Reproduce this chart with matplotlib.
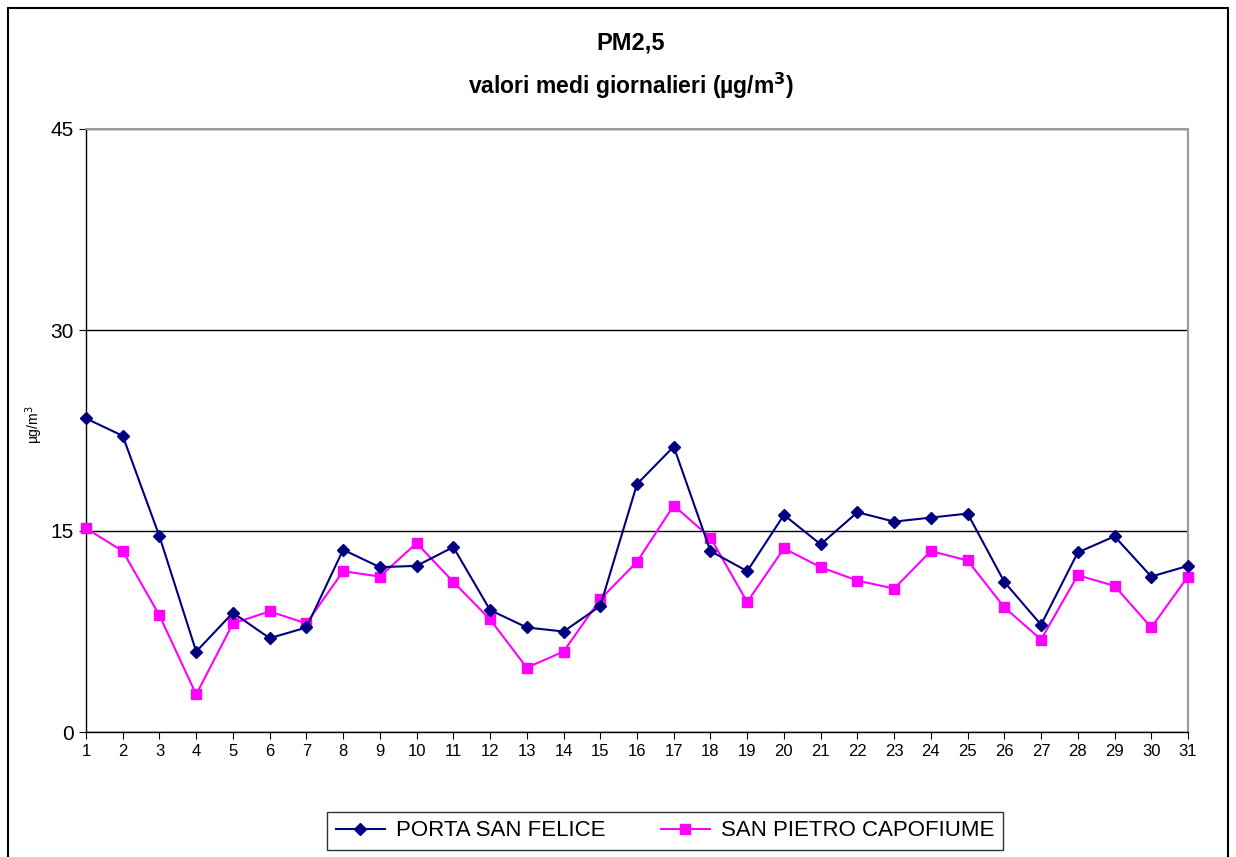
import matplotlib
matplotlib.use("Agg")
import matplotlib.pyplot as plt
from matplotlib.patches import Rectangle

plt.rcParams["font.family"] = ["Liberation Sans", "DejaVu Sans"]

days = list(range(1, 32))
porta_san_felice = [23.4, 22.1, 14.6, 6.0, 8.9, 7.0, 7.8, 13.6, 12.3, 12.4,
                    13.8, 9.1, 7.8, 7.5, 9.4, 18.5, 21.3, 13.5, 12.0, 16.2,
                    14.0, 16.4, 15.7, 16.0, 16.3, 11.2, 8.0, 13.4, 14.6, 11.6,
                    12.4]
san_pietro_capofiume = [15.2, 13.5, 8.7, 2.8, 8.1, 9.0, 8.1, 12.0, 11.6, 14.1,
                        11.2, 8.4, 4.8, 6.0, 9.9, 12.7, 16.9, 14.5, 9.7, 13.7,
                        12.3, 11.3, 10.7, 13.5, 12.8, 9.3, 6.9, 11.7, 10.9, 7.8,
                        11.6]
y_ticks = [0, 15, 30, 45]

W, H = 1236, 857
fig = plt.figure(figsize=(W / 100, H / 100), dpi=100)
ax = fig.add_axes([86 / W, (H - 732) / H, (1188 - 86) / W, (732 - 129) / H])

# outer chart frame
fig.patches.append(Rectangle((8 / W, -0.01), (1228 - 8) / W, (849 / H) + 0.01,
                             transform=fig.transFigure, fill=False,
                             edgecolor="black", linewidth=1.5))

ax.plot(days, porta_san_felice, color="#000080", marker="D", markersize=6,
        linewidth=1.5, label="PORTA SAN FELICE", clip_on=False, zorder=4)
ax.plot(days, san_pietro_capofiume, color="#FF00FF", marker="s", markersize=7,
        linewidth=1.5, label="SAN PIETRO CAPOFIUME", clip_on=False, zorder=3)

ax.set_xlim(1, 31)
ax.set_ylim(0, 45)
ax.set_xticks(days)
ax.set_yticks(y_ticks)
ax.tick_params(axis="x", labelsize=12, length=5, direction="out", pad=4)
ax.tick_params(axis="y", labelsize=15, length=5, direction="out", pad=4)
ax.yaxis.grid(True, color="black", linewidth=1)
ax.set_axisbelow(True)

for side in ("top", "right"):
    ax.spines[side].set_color("#999999")
    ax.spines[side].set_linewidth(1.5)
for side in ("left", "bottom"):
    ax.spines[side].set_color("black")
    ax.spines[side].set_linewidth(1)

ax.set_ylabel("µg/m$^3$", fontsize=10)
ax.yaxis.set_label_coords(-0.037, 0.51)

fig.text(631 / W, 1 - 43 / H, "PM2,5", ha="center", va="center",
         fontsize=17, fontweight="bold")
fig.text(631 / W, 1 - 86 / H, "valori medi giornalieri (µg/m$^\\mathbf{3}$)",
         ha="center", va="center", fontsize=16.5, fontweight="bold")

leg = fig.legend(loc="center", bbox_to_anchor=(665 / W, 1 - 831 / H), ncol=2,
                 fontsize=16, frameon=True, fancybox=False, edgecolor="black",
                 handlelength=2.2, columnspacing=2.5, borderpad=0.4,
                 handletextpad=0.5)
leg.get_frame().set_linewidth(1)

fig.savefig("out.png", dpi=100)
